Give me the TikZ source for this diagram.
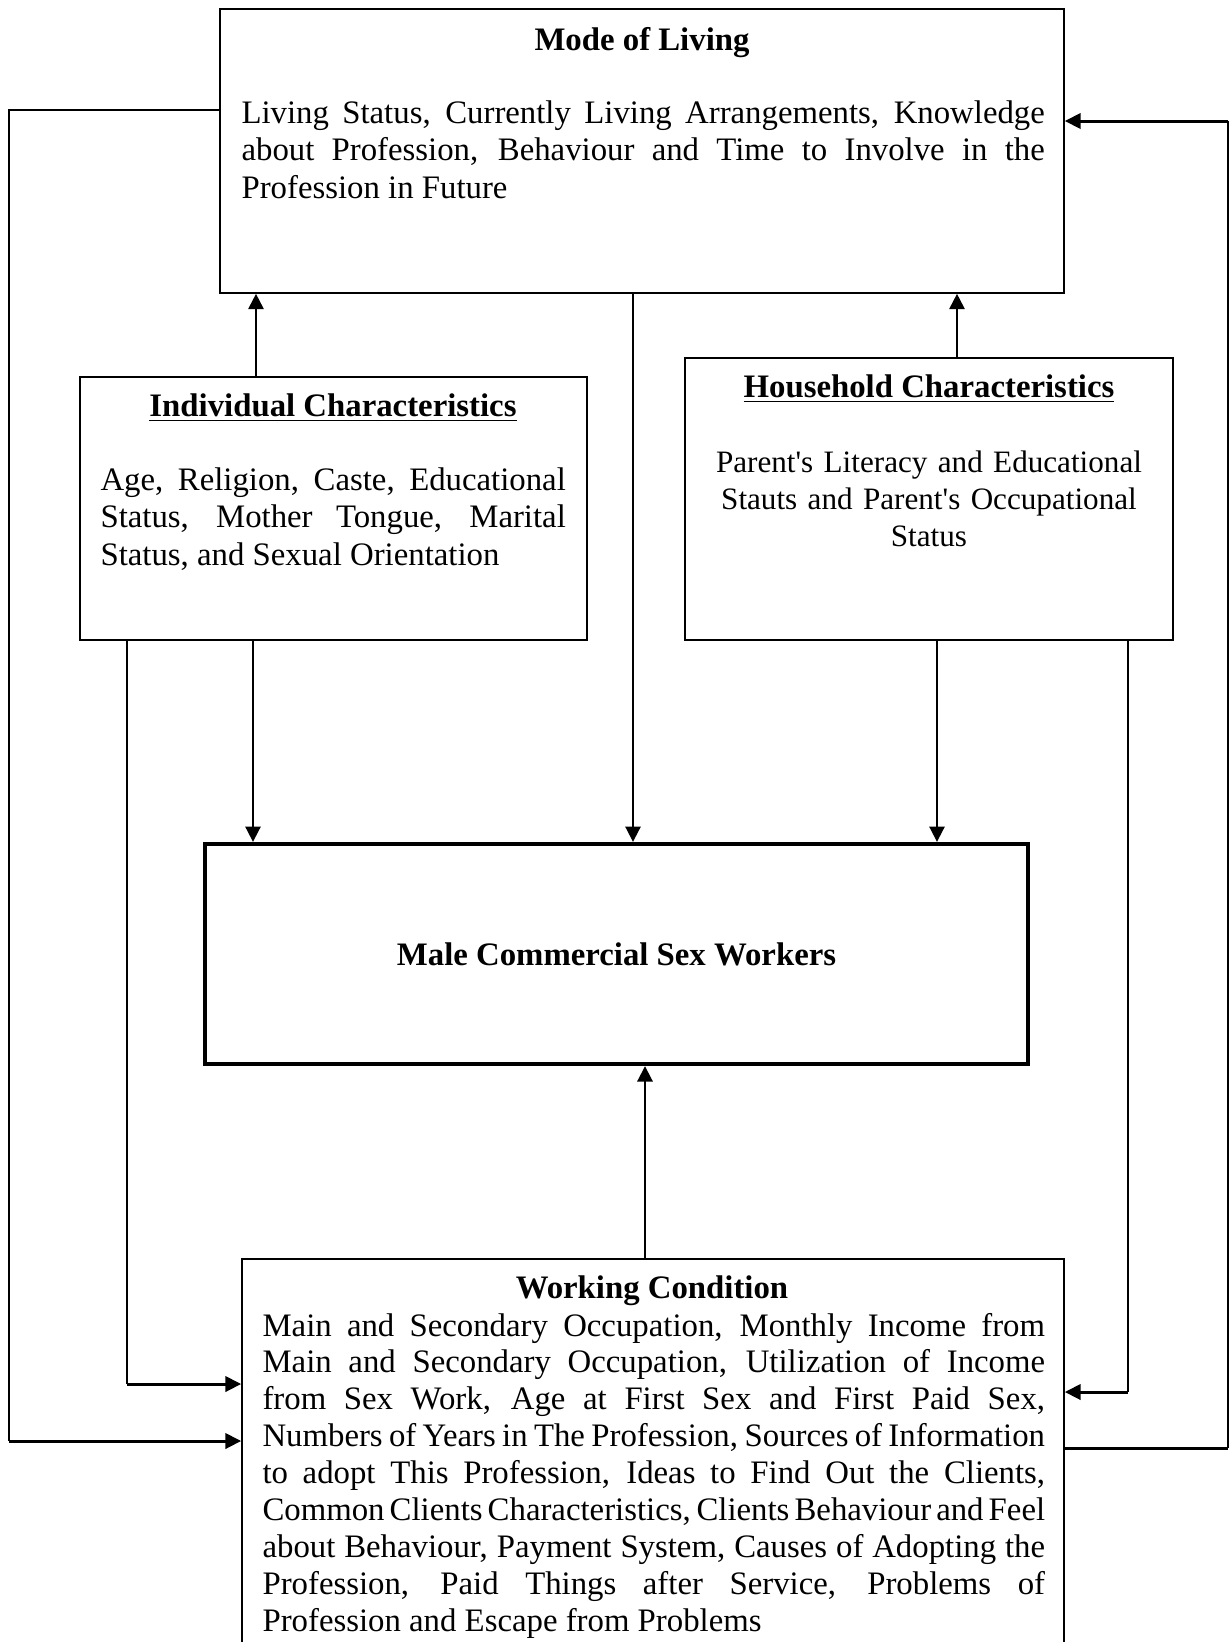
\documentclass[tikz,border=0pt]{standalone}
\usepackage{fontspec}
\setmainfont{Liberation Serif}
\usetikzlibrary{arrows.meta,fit,calc}

\newcommand\fullline[1]{\makebox[\linewidth][s]{\spaceskip=0.25em plus 0.2em minus 0.2em\relax #1}}

\tikzset{
  box/.style={draw, line width=0.6pt, inner sep=0pt},
  mainbox/.style={draw, line width=1.6pt, inner sep=0pt},
  txt/.style={inner sep=0pt, align=justify, anchor=base west, font=\fontsize{12}{13.8}\selectfont},
  ttl/.style={inner sep=0pt, anchor=base, font=\fontsize{12}{13.8}\selectfont\bfseries},
  link/.style={line width=0.7pt, -{Triangle[length=5.6pt,width=5.6pt]}},
  plain/.style={line width=0.6pt},
  strong/.style={line width=1.1pt, -{Triangle[length=5.8pt,width=5.6pt]}},
}

\begin{document}
\begin{tikzpicture}[x=0.01287cm, y=-0.01287cm]
    \useasboundingbox (0,0) rectangle (1230,1642);
    \clip (0,0) rectangle (1230,1642);

    % Boxes
    \node[box, fit={(220,9) (1064,293)}] (mode) {};
    \node[box, fit={(80,377) (587,640)}] (indiv) {};
    \node[box, fit={(685,358) (1173,640)}] (house) {};
    \node[mainbox, fit={(205,844) (1028,1064)}] (mcsw) {};
    \node[box, fit={(242,1259) (1064,1700)}] (work) {};

    % Mode of living
    \node[ttl] (modeT) at (642,50) {Mode of Living};
    \node[txt, text width=294pt] (modeB) at (241,123) {Living Status, Currently Living Arrangements, Knowledge\linebreak about Profession, Behaviour and Time to Involve in the\linebreak Profession in Future};

    % Individual characteristics
    \node[ttl] (indivT) at (333,416) {\underline{Individual Characteristics}};
    \node[txt, text width=170.3pt] (indivB) at (100,490) {Age, Religion, Caste, Educational\linebreak Status, Mother Tongue, Marital\linebreak Status, and Sexual Orientation};

    % Household characteristics
    \node[ttl] (houseT) at (929,397) {\underline{Household Characteristics}};
    \node[txt, text width=190pt, align=center, anchor=base, font=\fontsize{11.4}{13.6}\selectfont] (houseB) at (929,472) {Parent\textquotesingle s Literacy and Educational\\ Stauts and Parent\textquotesingle s Occupational\\ Status};

    % Centre
    \node[ttl, anchor=center] (mcswT) at (mcsw.center) {Male Commercial Sex Workers};

    % Working condition
    \node[ttl] (workT) at (652,1298) {Working Condition};
    \node[txt, text width=286.4pt, font=\fontsize{12}{13.5}\selectfont] (workB) at (262,1336) {Main and Secondary Occupation, Monthly Income from\linebreak Main and Secondary Occupation, Utilization of Income\linebreak from Sex Work, Age at First Sex and First Paid Sex,\linebreak \fullline{Numbers of Years in The Profession, Sources of Information}\linebreak to adopt This Profession, Ideas to Find Out the Clients,\linebreak \fullline{Common Clients Characteristics, Clients Behaviour and Feel}\linebreak about Behaviour, Payment System, Causes of Adopting the\linebreak Profession, Paid Things after Service, Problems of\linebreak Profession and Escape from Problems};

    % Straight arrows
    \draw[link] (indiv.north -| 256,0) -- (mode.south -| 256,0);
    \draw[link] (house.north -| 957,0) -- (mode.south -| 957,0);
    \draw[link] (indiv.south -| 253,0) -- (mcsw.north -| 253,0);
    \draw[link] (mode.south -| 633,0) -- (mcsw.north -| 633,0);
    \draw[link] (house.south -| 937,0) -- (mcsw.north -| 937,0);
    \draw[link] (work.north -| 645,0) -- (mcsw.south -| 645,0);

    % Loops to working condition
    \draw[plain] (mode.west |- 0,110) -| (9,1441);
    \draw[strong] (9,1441) -- (work.west |- 0,1441);
    \draw[plain] (indiv.south -| 127,0) -- (127,1384);
    \draw[strong] (127,1384) -- (work.west |- 0,1384);
    \draw[plain] (house.south -| 1128,0) -- (1128,1392);
    \draw[strong] (1128,1392) -- (work.east |- 0,1392);

    % Loop back to mode of living
    \draw[line width=1.1pt] (work.east |- 0,1448) -- (1228,1448);
    \draw[plain] (1228,1448) -- (1228,121);
    \draw[strong] (1228,121) -- (mode.east |- 0,121);

\end{tikzpicture}
\end{document}
